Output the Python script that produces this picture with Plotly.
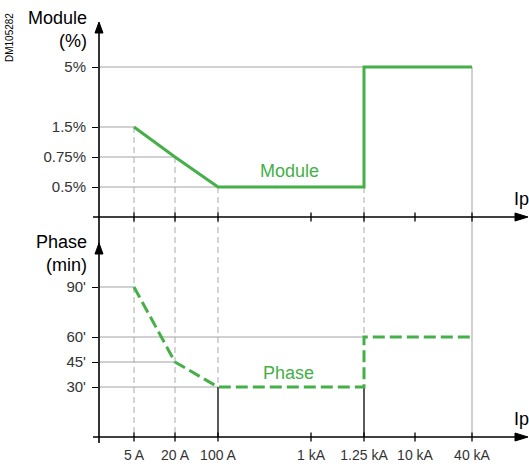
import plotly.graph_objects as go

W, H = 529, 466

# ---------------- data ----------------
current_labels = ["5 A", "20 A", "100 A", "1 kA", "1.25 kA", "10 kA", "40 kA"]
# schematic (not-to-scale) positions of each current along the Ip axis
current_axis_pos = [35, 76, 119, 212, 265, 316, 373]

module_tick_values = [0.5, 0.75, 1.5, 5]
module_tick_labels = ["0.5%", "0.75%", "1.5%", "5%"]
module_axis_levels = [1, 2, 3, 5]          # schematic (not-to-scale) module axis

phase_tick_values = [30, 45, 60, 90]
phase_tick_labels = ["30'", "45'", "60'", "90'"]

curve_currents = ["5 A", "20 A", "100 A", "1.25 kA", "1.25 kA", "40 kA"]
module_values = [1.5, 0.75, 0.5, 0.5, 5, 5]
phase_values = [90, 45, 30, 30, 60, 60]

# ---------------- helpers ----------------
xpos = dict(zip(current_labels, current_axis_pos))
mlev = dict(zip(module_tick_values, module_axis_levels))


def px(x):
    return x / W


def py(y):
    return 1 - y / H


GREEN = "#45b048"
GRID = "#a3a3a3"
DASHG = "#ababab"
FONT = "Liberation Sans, Arial, sans-serif"
TXT = "#333333"

mx = [xpos[c] for c in curve_currents]
my = [mlev[v] for v in module_values]
ph = phase_values

fig = go.Figure()

fig.add_trace(go.Scatter(x=mx, y=my, mode="lines", xaxis="x", yaxis="y",
                         line=dict(color=GREEN, width=3), hoverinfo="skip",
                         showlegend=False))
fig.add_trace(go.Scatter(x=mx, y=ph, mode="lines", xaxis="x2", yaxis="y2",
                         line=dict(color=GREEN, width=3, dash="12px,5px"),
                         hoverinfo="skip", showlegend=False))

shapes = []


def seg(xr, yr, x0, y0, x1, y1, color, width=1, dash="solid", layer="below"):
    shapes.append(dict(type="line", xref=xr, yref=yr, x0=x0, y0=y0, x1=x1, y1=y1,
                       line=dict(color=color, width=width, dash=dash), layer=layer))


# horizontal reference lines: from the axis to the first point at that level
seen = set()
for c, v in zip(curve_currents, module_values):
    if v not in seen:
        seen.add(v)
        seg("x", "y", 0, mlev[v], xpos[c], mlev[v], GRID)
seen = set()
for c, v in zip(curve_currents, phase_values):
    if v not in seen:
        seen.add(v)
        seg("x2", "y2", 0, v, xpos[c], v, GRID)

Y2TOP = 132  # top of the phase panel (in minutes)
# dashed verticals from module points down through both panels
for c, v in zip(curve_currents[:4], module_values[:4]):
    seg("x", "y", xpos[c], mlev[v], xpos[c], 0, DASHG, 1, "6px,4px")
for c in ["5 A", "20 A"]:
    seg("x2", "y2", xpos[c], Y2TOP, xpos[c], 0, DASHG, 1, "6px,4px")
# 100 A : dashed down to 30', then solid black
seg("x2", "y2", xpos["100 A"], Y2TOP, xpos["100 A"], 30, DASHG, 1, "6px,4px")
seg("x2", "y2", xpos["100 A"], 30, xpos["100 A"], 0, "black", 1.3)
# 1.25 kA : dashed down to 60', then solid black below 30'
seg("x2", "y2", xpos["1.25 kA"], Y2TOP, xpos["1.25 kA"], 60, DASHG, 1, "6px,4px")
seg("x2", "y2", xpos["1.25 kA"], 30, xpos["1.25 kA"], 0, "black", 1.3)
# 40 kA solid grey vertical
seg("x", "y", xpos["40 kA"], mlev[5], xpos["40 kA"], 0, GRID)
seg("x2", "y2", xpos["40 kA"], Y2TOP, xpos["40 kA"], 0, GRID)

# axes lines (paper)
AX = "black"
seg("paper", "paper", px(99), py(30), px(99), py(443), AX, 1.6, layer="above")
seg("paper", "paper", px(93), py(217), px(518), py(217), AX, 1.6, layer="above")
seg("paper", "paper", px(93), py(437), px(518), py(437), AX, 1.6, layer="above")


def tri(points):
    d = "M " + " L ".join(f"{px(a)},{py(b)}" for a, b in points) + " Z"
    shapes.append(dict(type="path", xref="paper", yref="paper", path=d,
                       fillcolor="black", line=dict(color="black", width=1),
                       layer="above"))


tri([(99, 22), (95, 33), (103, 33)])
tri([(99, 243), (95, 254), (103, 254)])
tri([(528, 217), (515, 213), (515, 221)])
tri([(528, 437), (515, 433), (515, 441)])

# crossing ticks on the Ip axes
for c in current_labels:
    shapes.append(dict(type="line", xref="x", yref="paper", x0=xpos[c], x1=xpos[c],
                       y0=py(212.5), y1=py(221.5), line=dict(color=AX, width=1.3),
                       layer="above"))
    shapes.append(dict(type="line", xref="x2", yref="paper", x0=xpos[c], x1=xpos[c],
                       y0=py(432.5), y1=py(441.5), line=dict(color=AX, width=1.3),
                       layer="above"))

annotations = [
    dict(text="Module<br>(%)", x=px(89), y=py(30), xref="paper", yref="paper",
         xanchor="right", yanchor="middle", align="right", showarrow=False,
         font=dict(family=FONT, size=18, color="black")),
    dict(text="Phase<br>(min)", x=px(89), y=py(253), xref="paper", yref="paper",
         xanchor="right", yanchor="middle", align="right", showarrow=False,
         font=dict(family=FONT, size=18, color="black")),
    dict(text="Ip", x=px(521), y=py(199), xref="paper", yref="paper",
         xanchor="center", yanchor="middle", showarrow=False,
         font=dict(family=FONT, size=18, color="black")),
    dict(text="Ip", x=px(521), y=py(419), xref="paper", yref="paper",
         xanchor="center", yanchor="middle", showarrow=False,
         font=dict(family=FONT, size=18, color="black")),
    dict(text="Module", x=px(289), y=py(171), xref="paper", yref="paper",
         xanchor="center", yanchor="middle", showarrow=False,
         font=dict(family=FONT, size=18, color=GREEN)),
    dict(text="Phase", x=px(288), y=py(373), xref="paper", yref="paper",
         xanchor="center", yanchor="middle", showarrow=False,
         font=dict(family=FONT, size=18, color=GREEN)),
    dict(text="DM105282", x=px(10), y=py(38), xref="paper", yref="paper",
         xanchor="center", yanchor="middle", textangle=-90, showarrow=False,
         font=dict(family=FONT, size=10, color="black")),
]

xdom = [px(99), px(528)]
common_x = dict(domain=xdom, range=[0, 429], showgrid=False, zeroline=False,
                showline=False, fixedrange=True)
fig.update_layout(
    width=W, height=H, margin=dict(l=0, r=0, t=0, b=0),
    paper_bgcolor="white", plot_bgcolor="rgba(0,0,0,0)",
    xaxis=dict(**common_x, anchor="y", showticklabels=False, ticks=""),
    yaxis=dict(domain=[py(217), py(22)], range=[0, 6.5], anchor="x",
               tickvals=[mlev[v] for v in module_tick_values],
               ticktext=module_tick_labels, ticks="outside", ticklen=6,
               tickwidth=1.3, tickcolor="black", showgrid=False, zeroline=False,
               showline=False, ticklabelstandoff=3, fixedrange=True,
               tickfont=dict(family=FONT, size=15, color=TXT)),
    xaxis2=dict(**common_x, anchor="y2", tickvals=current_axis_pos,
                ticktext=current_labels, ticks="", ticklabelstandoff=8,
                tickfont=dict(family=FONT, size=14, color=TXT)),
    yaxis2=dict(domain=[py(437), py(217)], range=[0, Y2TOP], anchor="x2",
                tickvals=phase_tick_values, ticktext=phase_tick_labels,
                ticks="outside", ticklen=6, tickwidth=1.3, tickcolor="black",
                showgrid=False, zeroline=False, showline=False,
                ticklabelstandoff=3, fixedrange=True,
                tickfont=dict(family=FONT, size=15, color=TXT)),
    shapes=shapes, annotations=annotations,
)

# remove the default page margin so the 529x466 figure fills the window
fig.write_html(
    "out.html",
    config={"displayModeBar": False},
    post_script="document.body.style.margin='0';"
                "document.body.style.overflow='hidden';"
                "document.documentElement.style.overflow='hidden';",
)
